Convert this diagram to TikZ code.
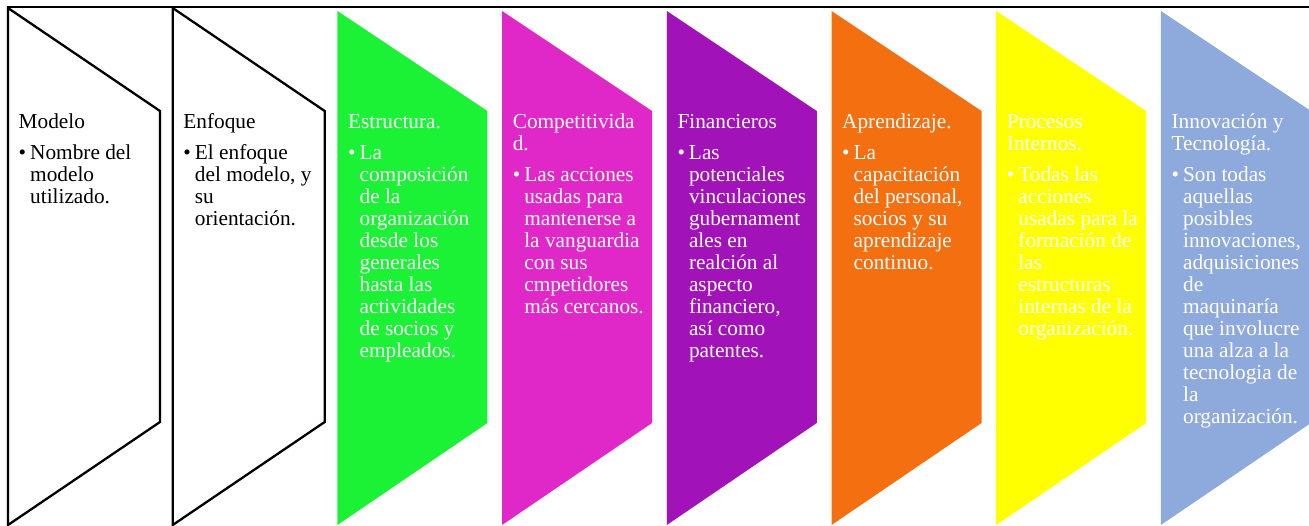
\documentclass[tikz,border=0pt]{standalone}
\usepackage{fontspec}
\setmainfont{Liberation Serif}
\usepackage{xcolor}
\usepackage{tikz}
\usetikzlibrary{calc}

\definecolor{verde}{RGB}{27,242,54}
\definecolor{magenta}{RGB}{224,40,200}
\definecolor{morado}{RGB}{161,18,184}
\definecolor{naranja}{RGB}{243,111,16}
\definecolor{amarillo}{RGB}{255,255,0}
\definecolor{azul}{RGB}{142,169,219}

\tikzset{
  stagetext/.style={anchor=base west,text width=148pt,align=flush left,inner sep=0pt,
    font=\fontsize{21.3}{22}\selectfont},
}

\newcommand{\drawChevron}[2]{% left x, fill
  \fill[#2] (#1,11) -- (#1+150,111) -- (#1+150,423) -- (#1,525) -- cycle;
}
\newcommand{\drawChevronOutline}[1]{% left x
  \draw[line width=2.3pt] (#1,8) -- (#1+152,111) -- (#1+152,422) -- (#1,525) -- cycle;
}
\newcommand{\stageText}[5]{% name, left x, colour, title, body
  \node[stagetext,text=#3] (#1) at (#2+10.5,128)
    {#4\par\vspace{9pt}{\leftskip=11.5pt\leavevmode\llap{\makebox[11.5pt][l]{\textbullet}}#5\par}};
}

\begin{document}
\begin{tikzpicture}[x=1pt,y=-1pt]
\useasboundingbox (0,0) rectangle (1309,525);

% Top border
\draw[line width=2pt] (7,7) -- (1309,7);

% Outlined stages
\drawChevronOutline{8}
\drawChevronOutline{172.7}

% Filled stages
\drawChevron{337.4}{verde}
\drawChevron{502.1}{magenta}
\drawChevron{666.8}{morado}
\drawChevron{831.5}{naranja}
\drawChevron{996.2}{amarillo}
\drawChevron{1160.9}{azul}

% Texts
\stageText{modelo}{8}{black}{Modelo}{Nombre del\\modelo\\utilizado.}
\stageText{enfoque}{172.7}{black}{Enfoque}{El enfoque\\del modelo, y\\su\\orientación.}
\stageText{estructura}{337.4}{white}{Estructura.}{La\\composición\\de la\\organización\\desde los\\generales\\hasta las\\actividades\\de socios y\\empleados.}
\stageText{competitividad}{502.1}{white}{Competitivida\\d.}{Las acciones\\usadas para\\mantenerse a\\la vanguardia\\con sus\\cmpetidores\\más cercanos.}
\stageText{financieros}{666.8}{white}{Financieros}{Las\\potenciales\\vinculaciones\\gubernament\\ales en\\realción al\\aspecto\\financiero,\\así como\\patentes.}
\stageText{aprendizaje}{831.5}{white}{Aprendizaje.}{La\\capacitación\\del personal,\\socios y su\\aprendizaje\\continuo.}
\stageText{procesos}{996.2}{white}{Procesos\\Internos.}{Todas las\\acciones\\usadas para la\\formación de\\las\\estructuras\\internas de la\\organización.}
\stageText{innovacion}{1160.9}{white}{Innovación y\\Tecnología.}{Son todas\\aquellas\\posibles\\innovaciones,\\adquisiciones\\de\\maquinaría\\que involucre\\una alza a la\\tecnologia de\\la\\organización.}

\end{tikzpicture}
\end{document}
